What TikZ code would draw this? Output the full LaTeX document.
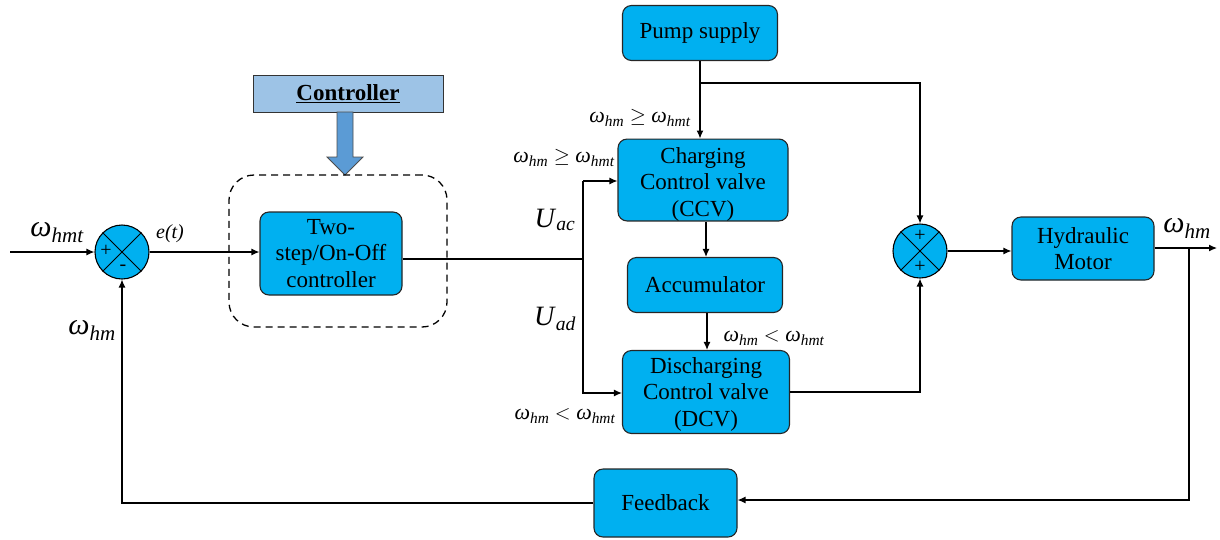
\documentclass[tikz,border=0pt]{standalone}
\usepackage{fontspec}
\setmainfont{Liberation Serif}
\newfontfamily\tms{Liberation Serif}
\usetikzlibrary{arrows.meta}
\newcommand{\om}[1]{{\itshape ω}\textsubscript{\itshape #1}}
\begin{document}
\begin{tikzpicture}[x=1pt,y=-1pt,
  font=\tms\fontsize{23}{26.5}\selectfont,
  blk/.style={draw=black!85,line width=1.1pt,fill=blkcol,rounded corners=9pt,align=center,inner sep=0pt},
  sumnode/.style={draw=black,line width=1.1pt,circle,fill=blkcol,minimum size=54pt,inner sep=0pt},
  wire/.style={line width=1.2pt},
  arr/.style={wire,-{Latex[length=8pt,width=7pt]}},
  lbl/.style={inner sep=0pt,font=\tms\fontsize{22}{24}\selectfont},
  sign/.style={font=\tms\fontsize{20}{20}\selectfont,inner sep=0pt}]
\definecolor{blkcol}{HTML}{00B0F0}
\definecolor{ctrlcol}{HTML}{9DC3E6}
\definecolor{arrcol}{HTML}{5B9BD5}
\useasboundingbox (0,0) rectangle (1220,539);

% summing junctions
\node[sumnode] (s1) at (122,252) {};
\node[sumnode] (s2) at (920,251) {};
\foreach \s in {s1,s2}{
  \draw[line width=0.9pt] (\s.45) -- (\s.225) (\s.135) -- (\s.315);}
\node[sign] at (106,251) {+};
\node[sign] at (123,268) {-};
\node[sign] at (920,236) {+};
\node[sign] at (920,267) {+};

% blocks (a strut on the first line lowers the valve texts a little)
\node[blk,minimum width=142pt,minimum height=83pt] (ctl) at (331,253.5) {Two-\\step/On-Off\\controller};
\node[blk,minimum width=155pt,minimum height=55pt] (pump) at (700,33) {Pump supply};
\node[blk,minimum width=170pt,minimum height=80pt] (ccv) at (703,180) {\rule{0pt}{24pt}Charging\\Control valve\\(CCV)};
\node[blk,minimum width=155pt,minimum height=55pt] (acc) at (705,285) {Accumulator};
\node[blk,minimum width=167pt,minimum height=83pt] (dcv) at (706,392) {\rule{0pt}{20pt}Discharging\\Control valve\\(DCV)};
\node[blk,minimum width=142pt,minimum height=63pt] (hm) at (1083,248.5) {Hydraulic\\Motor};
\node[blk,minimum width=143pt,minimum height=68pt] (fb) at (665.5,503) {Feedback};

% controller header with block arrow
\node[draw=black!80,line width=1pt,fill=ctrlcol,minimum width=190pt,minimum height=37pt,inner sep=0pt] (hdr) at (348,93.5) {\textbf{\underline{Controller}}};
\draw[draw=black!70,line width=0.8pt,fill=arrcol]
  (337,112) -- (337,157) -- (327,157) -- (345,175) -- (363,157) -- (353,157) -- (353,112) -- cycle;
\node[draw=black,line width=1.3pt,dash pattern=on 7pt off 5pt,rounded corners=25pt,
      minimum width=218pt,minimum height=152pt] (dbox) at (338,251) {};

% coordinates for junctions
\coordinate (in) at (10,252);
\coordinate (split) at (583,259);
\coordinate (ccvin) at (583,181);
\coordinate (dcvin) at (583,393);
\coordinate (pumpbr) at (700,83);
\coordinate (s2top) at (920,83);
\coordinate (dcvout) at (920,392);
\coordinate (hmout) at (1217,248);
\coordinate (tap) at (1189,248);
\coordinate (tapdn) at (1189,500);
\coordinate (fbl) at (122,503);

% connectors
\draw[arr] (in) -- (s1);
\draw[arr] (s1) -- (s1 -| ctl.west);
\draw[wire] (ctl.east |- split) -- (split);
\draw[arr] (ccvin) |- (dcvin) -- (dcvin -| dcv.west);
\draw[arr] (ccvin) -- (ccvin -| ccv.west);
\draw[arr] (pump.south) -- (ccv.north -| pump.south);
\draw[arr] (pumpbr) -- (s2top) -- (s2.north);
\draw[arr] (ccv.south -| 706,0) -- (acc.north -| 706,0);
\draw[arr] (acc.south -| 707,0) -- (dcv.north -| 707,0);
\draw[arr] (dcv.east |- dcvout) -- (dcvout) -- (s2.south);
\draw[arr] (s2) -- (s2 -| hm.west);
\draw[arr] (hm.east |- hmout) -- (hmout);
\draw[arr] (tap) -- (tapdn) -- (tapdn -| fb.east);
\draw[arr] (fb.west |- fbl) -- (fbl) -- (s1.south);

% labels
\node[lbl,font=\tms\fontsize{30}{30}\selectfont] at (57,233) {\om{hmt}};
\node[lbl,font=\tms\itshape\fontsize{20}{20}\selectfont] at (170,234) {e(t)};
\node[lbl,font=\tms\fontsize{30}{30}\selectfont] at (92,330) {\om{hm}};
\node[lbl,font=\tms\fontsize{30}{30}\selectfont] at (1187,228) {\om{hm}};
\node[lbl,font=\tms\fontsize{28}{28}\selectfont] at (555,220) {\textit{U}\textsubscript{\itshape ac}};
\node[lbl,font=\tms\fontsize{28}{28}\selectfont] at (555,319) {\textit{U}\textsubscript{\itshape ad}};
\node[lbl] at (640,118) {\om{hm} $\geq$ \om{hmt}};
\node[lbl] at (564,158) {\om{hm} $\geq$ \om{hmt}};
\node[lbl] at (774,338) {\om{hm} $<$ \om{hmt}};
\node[lbl] at (565,416) {\om{hm} $<$ \om{hmt}};
\end{tikzpicture}
\end{document}
